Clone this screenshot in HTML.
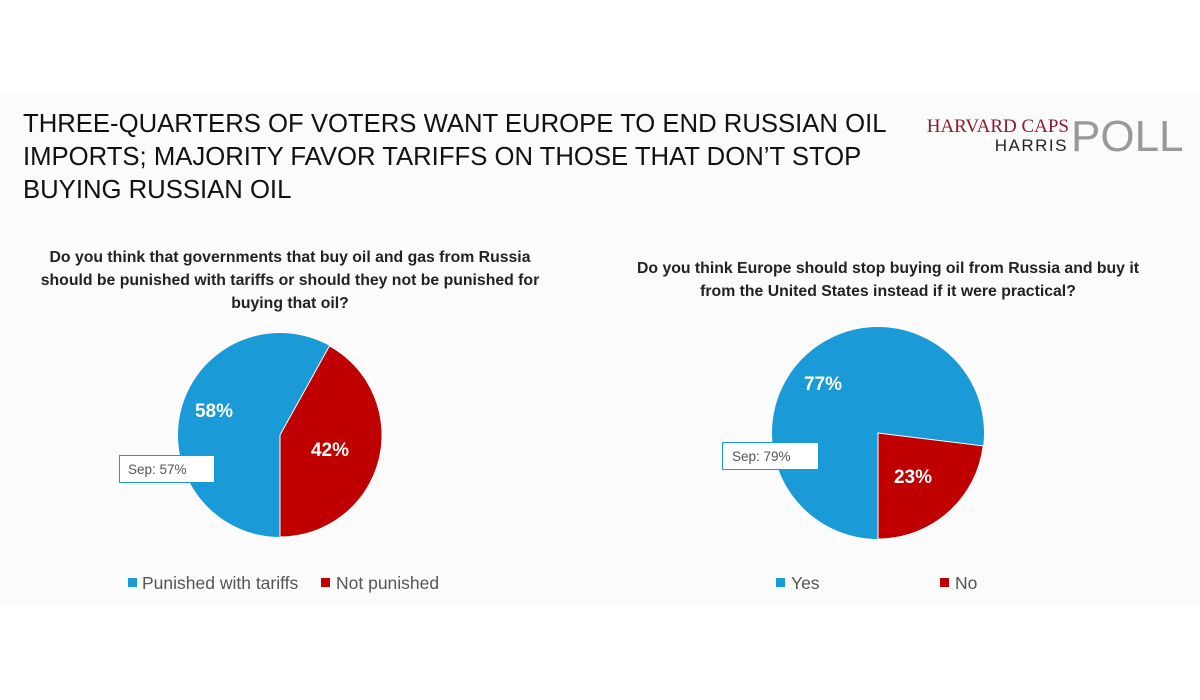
<!DOCTYPE html>
<html><head><meta charset="utf-8"><style>
html,body{margin:0;padding:0;width:1200px;height:700px;background:#fff;overflow:hidden}
</style></head><body>
<svg width="1200" height="700" xmlns="http://www.w3.org/2000/svg" style="position:absolute;left:0;top:0">
<rect x="0" y="94" width="1200" height="512" fill="#fbfbfb"/>
<g font-family="Liberation Sans, sans-serif" font-size="25.7" fill="#111">
<text x="23" y="132">THREE-QUARTERS OF VOTERS WANT EUROPE TO END RUSSIAN OIL</text>
<text x="23" y="165">IMPORTS; MAJORITY FAVOR TARIFFS ON THOSE THAT DON’T STOP</text>
<text x="23" y="198">BUYING RUSSIAN OIL</text>
</g>
<text x="1069" y="132" text-anchor="end" font-family="Liberation Serif, serif" font-size="19" fill="#8b1a2e">HARVARD CAPS</text>
<text x="1068" y="151" text-anchor="end" font-family="Liberation Sans, sans-serif" font-size="17" letter-spacing="1.5" fill="#222">HARRIS</text>
<text x="1071" y="151" font-family="Liberation Sans, sans-serif" font-size="44" fill="#999">POLL</text>
<g font-family="Liberation Sans, sans-serif" font-size="15.8" font-weight="bold" fill="#222" text-anchor="middle">
<text x="290" y="262">Do you think that governments that buy oil and gas from Russia</text>
<text x="290" y="285">should be punished with tariffs or should they not be punished for</text>
<text x="290" y="308">buying that oil?</text>
<text x="888" y="273">Do you think Europe should stop buying oil from Russia and buy it</text>
<text x="888" y="296">from the United States instead if it were practical?</text>
</g>
<circle cx="280" cy="435" r="102" fill="#1a9ad6"/>
<path d="M280,435 L329.5,345.8 A102,102 0 0 1 280,537 Z" fill="#c00000" stroke="#fff" stroke-width="1"/>
<circle cx="878" cy="433" r="106" fill="#1a9ad6"/>
<path d="M878,433 L983.2,445.9 A106,106 0 0 1 878,539 Z" fill="#c00000" stroke="#fff" stroke-width="1"/>
<g font-family="Liberation Sans, sans-serif" font-size="19" font-weight="bold" fill="#fff" text-anchor="middle">
<text x="214" y="417">58%</text>
<text x="330" y="456">42%</text>
<text x="823" y="390">77%</text>
<text x="913" y="483">23%</text>
</g>
<rect x="119.5" y="455.5" width="95" height="27" fill="#fff" stroke="#1a9ad6"/>
<text x="128" y="474" font-family="Liberation Sans, sans-serif" font-size="13.5" fill="#555">Sep: 57%</text>
<rect x="722.5" y="442.5" width="96" height="27" fill="#fff" stroke="#1a9ad6"/>
<text x="732" y="461" font-family="Liberation Sans, sans-serif" font-size="13.5" fill="#555">Sep: 79%</text>
<g font-family="Liberation Sans, sans-serif" font-size="17.5" fill="#555">
<rect x="128" y="578" width="9" height="9" fill="#1a9ad6"/><text x="142" y="589">Punished with tariffs</text>
<rect x="321" y="578" width="9" height="9" fill="#c00000"/><text x="336" y="589">Not punished</text>
<rect x="776" y="578" width="9" height="9" fill="#1a9ad6"/><text x="791" y="589">Yes</text>
<rect x="940" y="578" width="9" height="9" fill="#c00000"/><text x="955" y="589">No</text>
</g>
</svg>
</body></html>
